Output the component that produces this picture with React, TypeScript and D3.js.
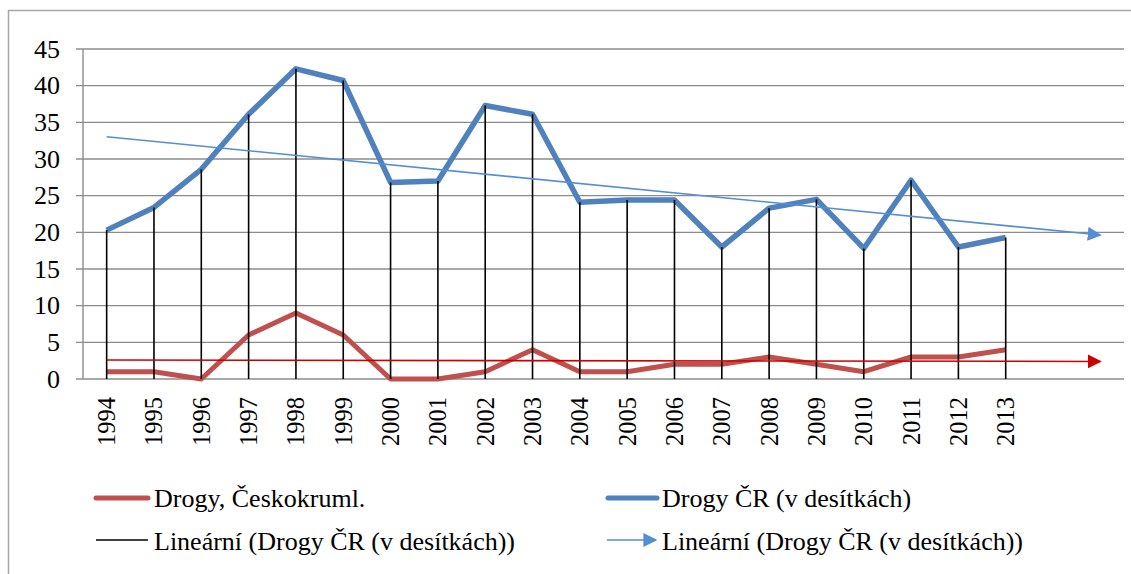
import React from "react";
import * as d3 from "d3";

const years = ["1994","1995","1996","1997","1998","1999","2000","2001","2002","2003","2004","2005","2006","2007","2008","2009","2010","2011","2012","2013"];
const drogyCK = [1, 1, 0, 6, 9, 6, 0, 0, 1, 4, 1, 1, 2, 2, 3, 2, 1, 3, 3, 4];
const drogyCR = [20.3, 23.4, 28.6, 36.1, 42.3, 40.7, 26.8, 27.0, 37.3, 36.1, 24.1, 24.4, 24.4, 18.0, 23.3, 24.5, 17.8, 27.1, 18.0, 19.3];
const yTicks = [0, 5, 10, 15, 20, 25, 30, 35, 40, 45];
const forecastPeriods = 2;
const legendLabels = ["Drogy, Českokruml.", "Drogy ČR (v desítkách)", "Lineární (Drogy ČR (v desítkách))", "Lineární (Drogy ČR (v desítkách))"];

const W = 1131, H = 574;
const left = 83, right = 1124, top = 49, bottom = 379;
const FONT = "'Liberation Serif', 'Times New Roman', serif";

function linReg(vals: number[]) {
  const n = vals.length;
  const xm = (n - 1) / 2;
  const ym = d3.mean(vals) as number;
  let sxy = 0, sxx = 0;
  vals.forEach((v, i) => { sxy += (i - xm) * (v - ym); sxx += (i - xm) * (i - xm); });
  const b = sxy / sxx;
  const a = ym - b * xm;
  return (i: number) => a + b * i;
}

export default function App() {
  const nCat = years.length + forecastPeriods;
  const x = d3.scaleBand<number>().domain(d3.range(nCat)).range([left, right]);
  const cx = (i: number) => (x(i) as number) + x.bandwidth() / 2;
  const y = d3.scaleLinear().domain([0, 45]).range([bottom, top]);

  const line = d3.line<number>().x((_, i) => cx(i)).y((d) => y(d));
  const trendCR = linReg(drogyCR);
  const trendCK = linReg(drogyCK);
  const lastIdx = nCat - 1;

  const blue = "#4F81BD";
  const red = "#C0504D";
  const trendBlue = "#558ED5";
  const trendRed = "#CC0000";
  const grid = "#8c8c8c";

  return (
    <svg width={W} height={H} style={{ position: "absolute", left: 0, top: 0 }} fontFamily={FONT}>
      <defs>
        <marker id="arrRed" viewBox="0 0 10 10" refX="9" refY="5" markerWidth="14" markerHeight="14" markerUnits="userSpaceOnUse" orient="auto">
          <path d="M0,0 L10,5 L0,10 Z" fill={trendRed} />
        </marker>
        <marker id="arrBlueL" viewBox="0 0 10 10" refX="9" refY="5" markerWidth="14" markerHeight="14" markerUnits="userSpaceOnUse" orient="auto">
          <path d="M0,0 L10,5 L0,10 Z" fill={trendBlue} />
        </marker>
      </defs>
      <rect x={0} y={0} width={W} height={H} fill="#fff" />
      <path d={`M8.5,${H} L8.5,10.5 L${W},10.5`} fill="none" stroke="#a6a6a6" strokeWidth={1.5} />

      {yTicks.map((t) => (
        <g key={t}>
          <line x1={left - 7} x2={right} y1={y(t)} y2={y(t)} stroke={grid} strokeWidth={1.4} />
          <text x={60} y={y(t)} textAnchor="end" dominantBaseline="central" fontSize={26} fill="#000">{t}</text>
        </g>
      ))}
      <line x1={left} x2={left} y1={top} y2={bottom} stroke={grid} strokeWidth={1.4} />

      {years.map((yr, i) => (
        <text key={yr} transform={`translate(${cx(i)},397) rotate(-90)`} textAnchor="end" dominantBaseline="central" fontSize={24.5} fill="#000">{yr}</text>
      ))}

      <path d={line(drogyCK) as string} fill="none" stroke={red} strokeWidth={5} strokeLinejoin="round" />
      <path d={line(drogyCR) as string} fill="none" stroke={blue} strokeWidth={5.5} strokeLinejoin="round" />

      {drogyCR.map((v, i) => (
        <line key={i} x1={cx(i)} x2={cx(i)} y1={y(v)} y2={y(0)} stroke="#000" strokeWidth={1.6} />
      ))}

      <line x1={cx(0)} y1={y(trendCR(0))} x2={cx(lastIdx)} y2={y(trendCR(lastIdx))} stroke={trendBlue} strokeWidth={1.6} markerEnd="url(#arrBlueL)" />
      <line x1={cx(0)} y1={y(trendCK(0))} x2={cx(lastIdx)} y2={y(trendCK(lastIdx))} stroke={trendRed} strokeWidth={1.6} markerEnd="url(#arrRed)" />

      {/* Legend */}
      <line x1={96} x2={148} y1={498} y2={498} stroke={red} strokeWidth={5} strokeLinecap="round" />
      <text x={154} y={507} fontSize={26} fill="#000">{legendLabels[0]}</text>
      <line x1={608} x2={657} y1={498} y2={498} stroke={blue} strokeWidth={5} strokeLinecap="round" />
      <text x={662} y={507} fontSize={26} fill="#000">{legendLabels[1]}</text>
      <line x1={96} x2={148} y1={540} y2={540} stroke="#000" strokeWidth={1.6} />
      <text x={154} y={550} fontSize={26} fill="#000">{legendLabels[2]}</text>
      <line x1={607} x2={656} y1={540} y2={540} stroke={trendBlue} strokeWidth={1.6} markerEnd="url(#arrBlueL)" />
      <text x={662} y={550} fontSize={26} fill="#000">{legendLabels[3]}</text>
    </svg>
  );
}
